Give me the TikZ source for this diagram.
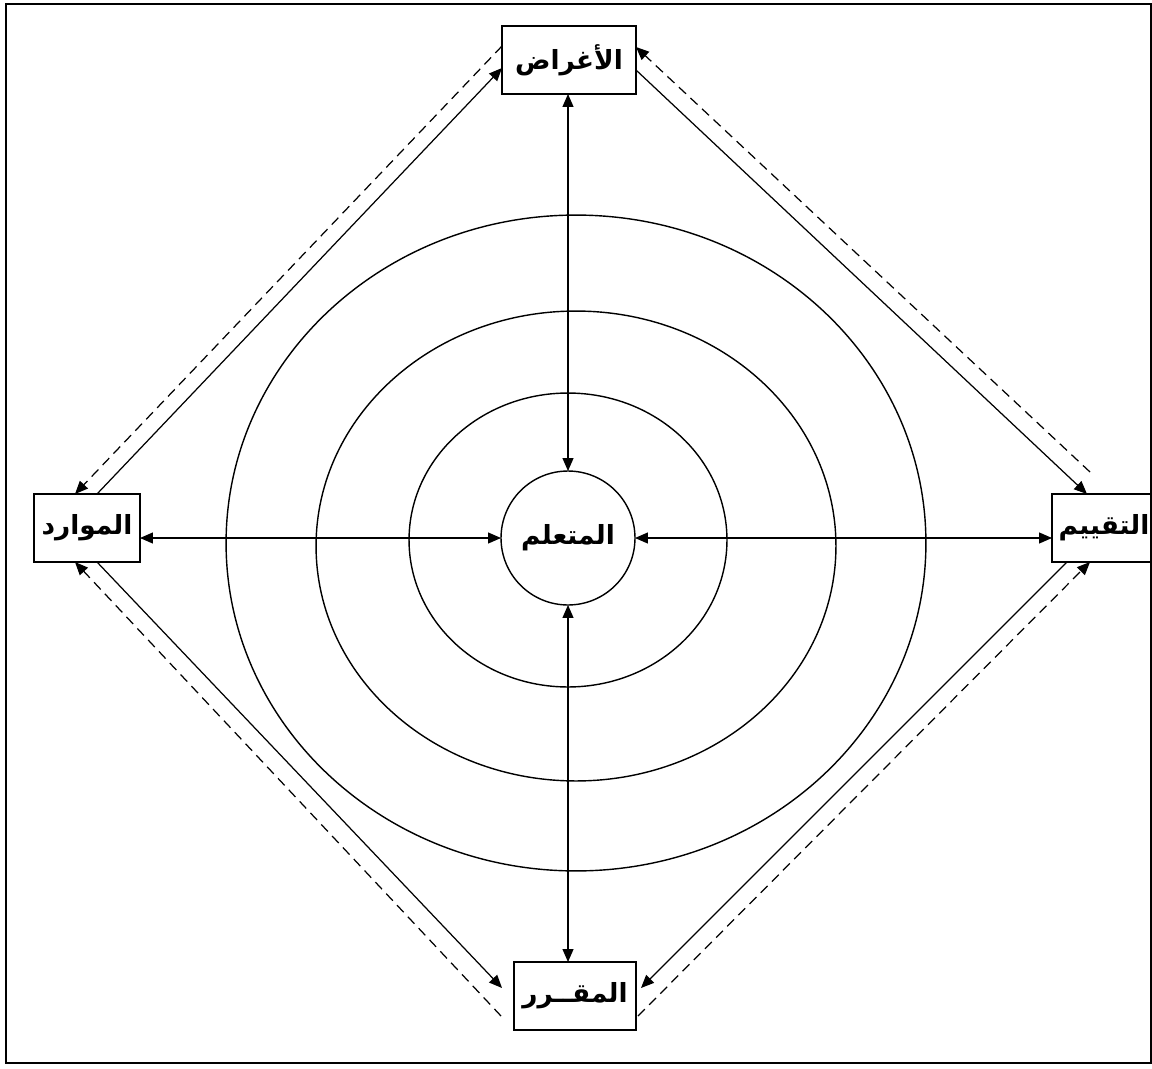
\documentclass[tikz,border=0pt]{standalone}
\usepackage{fontspec}
\newfontfamily\arabicfont[Script=Arabic]{DejaVu Sans}
\TeXXeTstate=1
\usetikzlibrary{arrows.meta,calc}
\newcommand{\rtl}[1]{\beginR#1\endR}

\begin{document}
\begin{tikzpicture}[
        x=0.02cm, y=-0.02cm,
        font={\arabicfont\bfseries\fontsize{15}{18}\selectfont},
        box/.style={
            draw=black,
            line width=1.1pt,
            minimum height=1.36cm,
            inner sep=2pt,
            outer sep=0pt
        },
        hub/.style={
            draw=black,
            line width=0.8pt,
            circle,
            minimum size=2.68cm,
            inner sep=0pt,
            outer sep=0pt
        },
        ring/.style={
            line width=0.8pt
        },
        dbl/.style={
            {Triangle[length=2.6mm,width=2.2mm]}-{Triangle[length=2.6mm,width=2.2mm]},
            line width=0.7pt
        },
        arr/.style={
            -{Triangle[length=2.6mm,width=2.2mm]},
            line width=0.7pt
        },
        back/.style={
            arr,
            dash pattern=on 5.5pt off 3.5pt
        }
    ]
    \useasboundingbox (0,0) rectangle (1152,1068);

    % =========================
    % Frame
    % =========================
    \draw[line width=1.1pt] (6,4) rectangle (1151,1063);

    % =========================
    % Rings round the learner
    % =========================
    \draw[ring] (568,540) ellipse [x radius=3.18cm, y radius=2.94cm];
    \draw[ring] (576,546) ellipse [x radius=5.2cm, y radius=4.7cm];
    \draw[ring] (576,543) ellipse [x radius=7cm, y radius=6.56cm];

    % =========================
    % Nodes
    % =========================
    \node[hub, fill=white] (lrn) at (568,538) {\rtl{المتعلم}};

    \node[box, minimum width=2.68cm] (obj) at (569,60) {\rtl{الأغراض}};
    \node[box, minimum width=2.12cm] (res) at (87,528) {\rtl{الموارد}};
    \node[box, minimum width=2.08cm] (eva) at (1104,528) {\rtl{التقييم}};
    \node[box, minimum width=2.44cm] (crs) at (575,996) {\rtl{المقــرر}};

    % =========================
    % Spokes
    % =========================
    \draw[dbl] (obj.south -| lrn.north) -- (lrn.north);
    \draw[dbl] (lrn.south) -- (lrn.south |- crs.north);
    \draw[dbl] (lrn.west -| res.east) -- (lrn.west);
    \draw[dbl] (lrn.east) -- (lrn.east -| eva.west);

    % =========================
    % Diagonals
    % =========================
    % resources - objectives
    \draw[arr] ([xshift=0.2cm]res.north) -- ([yshift=-0.16cm]obj.west);
    \draw[back] ([yshift=0.28cm]obj.west) -- ([xshift=-0.24cm]res.north);

    % objectives - evaluation
    \draw[arr] ([yshift=-0.2cm]obj.east) -- ([xshift=-0.34cm]eva.north);
    \coordinate (evaTop) at ([shift={(-0.28cm,0.44cm)}]eva.north);
    \draw[back] (evaTop) -- ([yshift=0.26cm]obj.east);

    % evaluation - course
    \draw[arr] ([xshift=-0.74cm]eva.south) -- ([shift={(0.1cm,0.16cm)}]crs.east);
    \draw[back] ([shift={(0.04cm,-0.4cm)}]crs.east) -- ([xshift=-0.28cm]eva.south);

    % resources - course
    \draw[arr] ([xshift=0.2cm]res.south) -- ([shift={(-0.24cm,0.16cm)}]crs.west);
    \draw[back] ([shift={(-0.26cm,-0.4cm)}]crs.west) -- ([xshift=-0.24cm]res.south);

\end{tikzpicture}
\end{document}
